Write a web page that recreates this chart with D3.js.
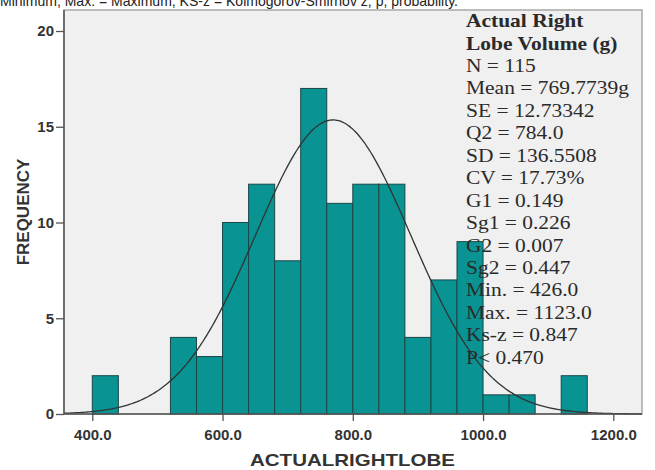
<!DOCTYPE html>
<html>
<head>
<meta charset="utf-8">
<script src="https://cdn.jsdelivr.net/npm/d3@7/dist/d3.min.js"></script>
<style>
  html, body { margin: 0; padding: 0; background: #fff; }
  svg { display: block; }
</style>
</head>
<body>
<svg id="chart" width="655" height="470"></svg>
<script>
// Histogram bins (lower edge, upper edge) and counts for actual right lobe volume
const binStart = [400, 520, 560, 600, 640, 680, 720, 760, 800, 840, 880, 920, 960, 1000, 1040, 1120];
const binEnd   = [440, 560, 600, 640, 680, 720, 760, 800, 840, 880, 920, 960, 1000, 1040, 1080, 1160];
const counts   = [2, 4, 3, 10, 12, 8, 17, 11, 12, 12, 4, 7, 9, 1, 1, 2];

const xTicks = [400, 600, 800, 1000, 1200];
const yTicks = [0, 5, 10, 15, 20];

// Normal curve overlay
const nTotal = 115;
const binWidth = 40;
const curveMean = 769.7739;
const curveSD = 119.5;

const statLines = [
  "Actual Right",
  "Lobe Volume (g)",
  "N = 115",
  "Mean = 769.7739g",
  "SE = 12.73342",
  "Q2 = 784.0",
  "SD = 136.5508",
  "CV = 17.73%",
  "G1 = 0.149",
  "Sg1 = 0.226",
  "G2 = 0.007",
  "Sg2 = 0.447",
  "Min. = 426.0",
  "Max. = 1123.0",
  "Ks-z = 0.847",
  "P< 0.470"
];
const boldLines = 2;

const caption = "Minimum, Max. = Maximum, KS-z = Kolmogorov-Smirnov z, p, probability.";

const svg = d3.select("#chart");

const frame = { left: 64, right: 642, top: 10, bottom: 414 };

const x = d3.scaleLinear().domain([400, 1200]).range([92.3, 613.3]);
const y = d3.scaleLinear().domain([0, 20]).range([414, 31]);

// caption line, mostly cut off at the top edge
svg.append("text")
  .attr("x", 0).attr("y", 6)
  .attr("font-family", "Liberation Sans, Arial, sans-serif")
  .attr("font-size", 15)
  .attr("fill", "#222")
  .attr("textLength", 458)
  .attr("lengthAdjust", "spacingAndGlyphs")
  .text(caption);

// plot background and frame
svg.append("rect")
  .attr("x", frame.left).attr("y", frame.top)
  .attr("width", frame.right - frame.left)
  .attr("height", frame.bottom - frame.top)
  .attr("fill", "#f0f0f0")
  .attr("stroke", "#a8a8a8")
  .attr("stroke-width", 1.5);

const plot = svg.append("g");

// bars
const bins = counts.map((c, i) => ({ x0: binStart[i], x1: binEnd[i], n: c }));
plot.selectAll("rect.bar")
  .data(bins)
  .join("rect")
  .attr("class", "bar")
  .attr("x", d => x(d.x0))
  .attr("y", d => y(d.n))
  .attr("width", d => x(d.x1) - x(d.x0))
  .attr("height", d => y(0) - y(d.n))
  .attr("fill", "#0a9393")
  .attr("stroke", "#1c4646")
  .attr("stroke-width", 1);

// normal curve
const xMin = x.invert(frame.left), xMax = x.invert(frame.right);
const curvePts = d3.range(0, 301).map(i => {
  const v = xMin + (xMax - xMin) * i / 300;
  const z = (v - curveMean) / curveSD;
  const f = nTotal * binWidth * Math.exp(-0.5 * z * z) / (curveSD * Math.sqrt(2 * Math.PI));
  return [v, f];
});
plot.append("path")
  .datum(curvePts)
  .attr("fill", "none")
  .attr("stroke", "#2e3535")
  .attr("stroke-width", 1.3)
  .attr("d", d3.line().x(d => x(d[0])).y(d => y(d[1])).curve(d3.curveBasis));

// axes
const axisColor = "#555";
const xAxis = svg.append("g")
  .attr("transform", `translate(0,${frame.bottom})`)
  .call(d3.axisBottom(x).tickValues(xTicks).tickFormat(d3.format(".1f")).tickSize(7).tickSizeOuter(0));
xAxis.select(".domain").remove();
xAxis.append("line")
  .attr("x1", frame.left).attr("x2", frame.right)
  .attr("stroke", axisColor).attr("stroke-width", 1.5);
xAxis.selectAll(".tick line").attr("stroke", axisColor).attr("stroke-width", 1.3);
xAxis.selectAll(".tick text")
  .attr("dy", "1.05em")
  .attr("font-family", "Liberation Sans, Arial, sans-serif")
  .attr("font-weight", "bold")
  .attr("font-size", 15)
  .attr("fill", "#333");

const yAxis = svg.append("g")
  .attr("transform", `translate(${frame.left},0)`)
  .call(d3.axisLeft(y).tickValues(yTicks).tickFormat(d3.format("d")).tickSize(8).tickSizeOuter(0));
yAxis.select(".domain").remove();
yAxis.append("line")
  .attr("y1", frame.top).attr("y2", frame.bottom)
  .attr("stroke", axisColor).attr("stroke-width", 1.5);
yAxis.selectAll(".tick line").attr("stroke", axisColor).attr("stroke-width", 1.3);
yAxis.selectAll(".tick text")
  .attr("x", -10)
  .attr("font-family", "Liberation Sans, Arial, sans-serif")
  .attr("font-weight", "bold")
  .attr("font-size", 15)
  .attr("fill", "#333");

// axis titles
svg.append("text")
  .attr("transform", "translate(29,212) rotate(-90)")
  .attr("text-anchor", "middle")
  .attr("font-family", "Liberation Sans, Arial, sans-serif")
  .attr("font-weight", "bold")
  .attr("font-size", 17)
  .attr("fill", "#333")
  .text("FREQUENCY");

svg.append("text")
  .attr("x", 250).attr("y", 466)
  .attr("font-family", "Liberation Sans, Arial, sans-serif")
  .attr("font-weight", "bold")
  .attr("font-size", 17)
  .attr("fill", "#333")
  .attr("textLength", 205)
  .attr("lengthAdjust", "spacingAndGlyphs")
  .text("ACTUALRIGHTLOBE");

// statistics block
const stats = svg.append("g")
  .attr("transform", "translate(466,0) scale(1.13,1)");
stats.selectAll("text")
  .data(statLines)
  .join("text")
  .attr("x", 0)
  .attr("y", (d, i) => i < boldLines ? 27 + i * 23.5 : 72 + (i - 2) * 22.45)
  .attr("font-family", "Liberation Serif, Times New Roman, serif")
  .attr("font-size", 19)
  .attr("font-weight", (d, i) => i < boldLines ? "bold" : "normal")
  .attr("fill", "#2a2a2a")
  .text(d => d);
</script>
</body>
</html>
